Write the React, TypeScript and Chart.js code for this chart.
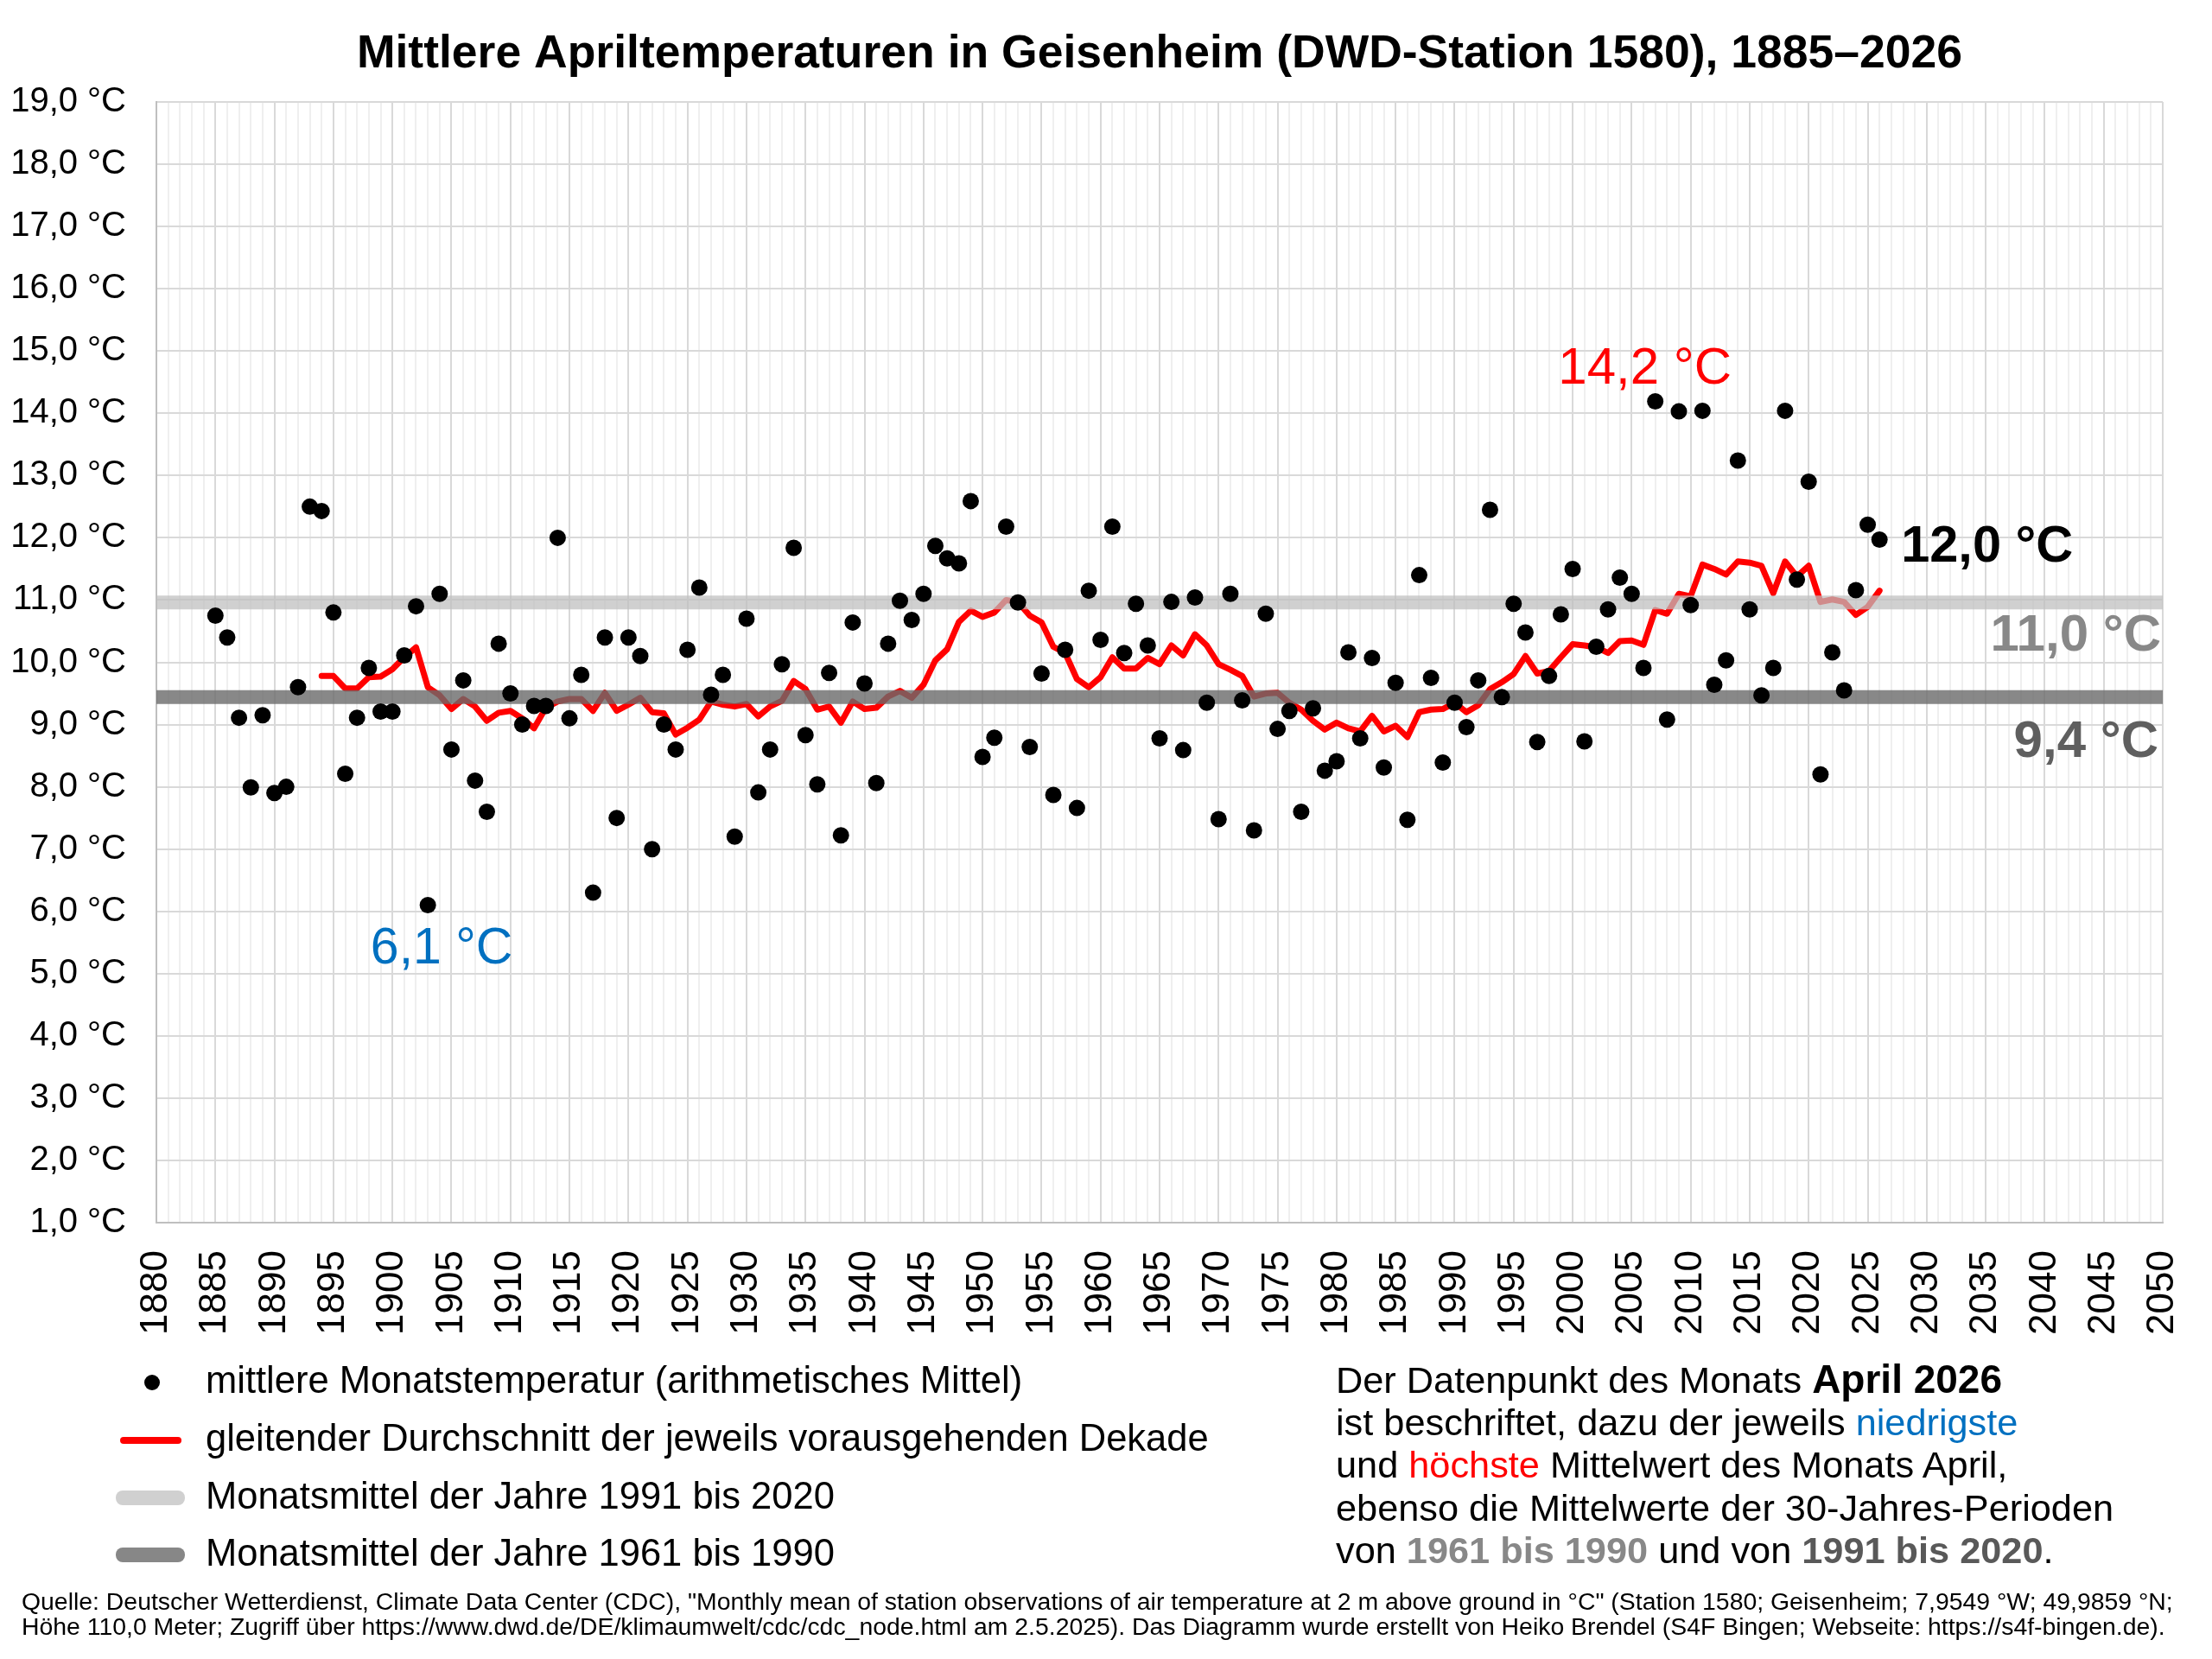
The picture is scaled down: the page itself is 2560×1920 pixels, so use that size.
import React, { useEffect, useRef } from 'react';
import { Chart, registerables } from 'chart.js';

Chart.register(...registerables);

// ---------- data ----------
const FIRST_YEAR = 1885;
const aprilMeans = [
  10.75, 10.4, 9.11, 7.99, 9.15, 7.9, 8.0, 9.6, 12.5, 12.43, // 1885-1894
  10.8, 8.21, 9.11, 9.91, 9.21, 9.21, 10.11, 10.9, 6.1, 11.1, // 1895-1904
  8.6, 9.71, 8.1, 7.6, 10.3, 9.5, 9.0, 9.3, 9.3, 12.0, // 1905-1914
  9.1, 9.8, 6.3, 10.4, 7.5, 10.4, 10.1, 7.0, 9.0, 8.6, // 1915-1924
  10.2, 11.2, 9.48, 9.8, 7.2, 10.7, 7.91, 8.6, 9.97, 11.84, // 1925-1934
  8.83, 8.04, 9.83, 7.22, 10.64, 9.66, 8.06, 10.3, 10.99, 10.68, // 1935-1944
  11.1, 11.87, 11.67, 11.59, 12.59, 8.48, 8.79, 12.18, 10.96, 8.64, // 1945-1954
  9.82, 7.87, 10.2, 7.66, 11.15, 10.36, 12.18, 10.15, 10.94, 10.27, // 1955-1964
  8.78, 10.97, 8.59, 11.04, 9.35, 7.48, 11.1, 9.39, 7.3, 10.78, // 1965-1974
  8.93, 9.22, 7.6, 9.26, 8.26, 8.41, 10.16, 8.78, 10.07, 8.31, // 1975-1984
  9.67, 7.47, 11.4, 9.75, 8.39, 9.35, 8.96, 9.71, 12.45, 9.44, // 1985-1994
  10.94, 10.48, 8.72, 9.78, 10.77, 11.5, 8.73, 10.25, 10.85, 11.36, // 1995-2004
  11.1, 9.91, 14.19, 9.08, 14.03, 10.92, 14.04, 9.64, 10.03, 13.24, // 2005-2014
  10.85, 9.47, 9.91, 14.04, 11.33, 12.9, 8.2, 10.16, 9.55, 11.16, // 2015-2024
  12.21, 11.97, // 2025-2026
];

const FIRST_AVG_YEAR = 1894;
const decadeAverages = [
  9.78, 9.78, 9.58, 9.58, 9.76, 9.77, 9.89, 10.08, 10.24, 9.6, // 1894-1903
  9.47, 9.25, 9.41, 9.29, 9.06, 9.19, 9.22, 9.1, 8.94, 9.27, // 1904-1913
  9.37, 9.41, 9.41, 9.22, 9.51, 9.22, 9.32, 9.43, 9.2, 9.18, // 1914-1923
  8.84, 8.95, 9.08, 9.37, 9.32, 9.29, 9.33, 9.13, 9.29, 9.38, // 1924-1933
  9.7, 9.57, 9.24, 9.29, 9.03, 9.37, 9.25, 9.27, 9.45, 9.54, // 1934-1943
  9.43, 9.64, 10.03, 10.21, 10.65, 10.83, 10.73, 10.8, 11.0, 10.97, // 1944-1953
  10.75, 10.64, 10.25, 10.15, 9.73, 9.6, 9.76, 10.08, 9.9, 9.9, // 1954-1963
  10.07, 9.97, 10.27, 10.11, 10.45, 10.27, 9.97, 9.88, 9.78, 9.45, // 1964-1973
  9.5, 9.51, 9.35, 9.24, 9.06, 8.92, 9.03, 8.94, 8.89, 9.14, // 1974-1983
  8.89, 8.98, 8.8, 9.2, 9.24, 9.25, 9.35, 9.2, 9.31, 9.57, // 1984-1993
  9.68, 9.81, 10.1, 9.82, 9.86, 10.08, 10.29, 10.27, 10.24, 10.15, // 1994-2003
  10.34, 10.35, 10.28, 10.84, 10.78, 11.1, 11.06, 11.57, 11.5, 11.41, // 2004-2013
  11.62, 11.6, 11.55, 11.11, 11.62, 11.38, 11.55, 10.97, 11.01, 10.97, // 2014-2023
  10.76, 10.89, 11.15, // 2024-2026
];

const MEAN_1961_1990 = 9.44;
const MEAN_1991_2020 = 10.96;

const X_MIN = 1880;
const X_MAX = 2050;
const Y_MIN = 1;
const Y_MAX = 19;

const TITLE = 'Mittlere Apriltemperaturen in Geisenheim (DWD-Station 1580), 1885–2026';
const LEGEND_LABELS = [
  'mittlere Monatstemperatur (arithmetisches Mittel)',
  'gleitender Durchschnitt der jeweils vorausgehenden Dekade',
  'Monatsmittel der Jahre 1991 bis 2020',
  'Monatsmittel der Jahre 1961 bis 1990',
];
const FOOTER_LINES = [
  'Quelle: Deutscher Wetterdienst, Climate Data Center (CDC), "Monthly mean of station observations of air temperature at 2 m above ground in °C" (Station 1580; Geisenheim; 7,9549 °W; 49,9859 °N;',
  'Höhe 110,0 Meter; Zugriff über https://www.dwd.de/DE/klimaumwelt/cdc/cdc_node.html am 2.5.2025). Das Diagramm wurde erstellt von Heiko Brendel (S4F Bingen; Webseite: https://s4f-bingen.de).',
];

// ---------- styling ----------
const FONT = '"Liberation Sans", Arial, Helvetica, sans-serif';
const RED = '#ff0000';
const BLUE = '#0070c0';
const LIGHT_BAND = 'rgba(191,191,191,0.73)';
const DARK_BAND = 'rgba(106,106,106,0.8)';

const fmt = (v: number) => v.toFixed(1).replace('.', ',') + ' °C';

const overlayPlugin = {
  id: 'overlayTexts',
  afterDraw(chart: any) {
    const { ctx, chartArea, scales } = chart;
    const xs = scales.x;
    const ys = scales.y;
    ctx.save();
    ctx.textBaseline = 'alphabetic';

    // title
    ctx.font = `bold 53.5px ${FONT}`;
    ctx.fillStyle = '#000';
    ctx.textAlign = 'center';
    ctx.fillText(TITLE, (chartArea.left + chartArea.right) / 2, 78);

    // highest value
    const maxV = Math.max(...aprilMeans);
    const maxYear = FIRST_YEAR + aprilMeans.indexOf(maxV);
    ctx.font = `60px ${FONT}`;
    ctx.fillStyle = RED;
    ctx.textAlign = 'center';
    ctx.fillText(fmt(maxV), xs.getPixelForValue(maxYear) - 12, ys.getPixelForValue(maxV) - 21);

    // lowest value
    const minV = Math.min(...aprilMeans);
    const minYear = FIRST_YEAR + aprilMeans.indexOf(minV);
    ctx.font = `59px ${FONT}`;
    ctx.fillStyle = BLUE;
    ctx.fillText(fmt(minV), xs.getPixelForValue(minYear) + 16, ys.getPixelForValue(minV) + 67);

    // latest value
    const lastV = aprilMeans[aprilMeans.length - 1];
    const lastYear = FIRST_YEAR + aprilMeans.length - 1;
    ctx.font = `bold 59.5px ${FONT}`;
    ctx.fillStyle = '#000';
    ctx.textAlign = 'left';
    ctx.fillText(fmt(lastV), xs.getPixelForValue(lastYear) + 25, ys.getPixelForValue(lastV) + 25);

    // 30-year means
    ctx.font = `bold 60px ${FONT}`;
    ctx.textAlign = 'right';
    ctx.fillStyle = '#888888';
    ctx.fillText(fmt(MEAN_1991_2020), chartArea.right - 2, ys.getPixelForValue(MEAN_1991_2020) + 56);
    ctx.fillStyle = '#5f5f5f';
    ctx.fillText(fmt(MEAN_1961_1990), chartArea.right - 5, ys.getPixelForValue(MEAN_1961_1990) + 69);

    ctx.restore();
  },
};

export default function App() {
  const canvasRef = useRef<HTMLCanvasElement>(null);

  useEffect(() => {
    const canvas = canvasRef.current;
    if (!canvas) return;
    Chart.defaults.font.family = FONT;
    Chart.defaults.color = '#000';

    const points = aprilMeans.map((v, i) => ({ x: FIRST_YEAR + i, y: v }));
    const avgLine = decadeAverages.map((v, i) => ({ x: FIRST_AVG_YEAR + i, y: v }));

    const chart = new Chart(canvas, {
      type: 'scatter',
      data: {
        datasets: [
          {
            type: 'scatter',
            label: LEGEND_LABELS[0],
            data: points,
            pointRadius: 9.5,
            pointBackgroundColor: '#000',
            pointBorderWidth: 0,
            showLine: false,
            order: 0,
          },
          {
            type: 'line',
            label: LEGEND_LABELS[2],
            data: [
              { x: X_MIN, y: MEAN_1991_2020 },
              { x: X_MAX, y: MEAN_1991_2020 },
            ],
            borderColor: LIGHT_BAND,
            borderWidth: 16,
            pointRadius: 0,
            borderCapStyle: 'butt',
            showLine: true,
            order: 1,
          },
          {
            type: 'line',
            label: LEGEND_LABELS[3],
            data: [
              { x: X_MIN, y: MEAN_1961_1990 },
              { x: X_MAX, y: MEAN_1961_1990 },
            ],
            borderColor: DARK_BAND,
            borderWidth: 16,
            pointRadius: 0,
            borderCapStyle: 'butt',
            showLine: true,
            order: 1,
          },
          {
            type: 'line',
            label: LEGEND_LABELS[1],
            data: avgLine,
            borderColor: RED,
            borderWidth: 7,
            pointRadius: 0,
            borderJoinStyle: 'round',
            borderCapStyle: 'round',
            tension: 0,
            showLine: true,
            order: 2,
          },
        ],
      },
      options: {
        animation: false,
        responsive: false,
        devicePixelRatio: 1,
        layout: { padding: { top: 118, right: 57, bottom: 0, left: 0 } },
        plugins: {
          legend: { display: false },
          tooltip: { enabled: false },
          title: { display: false },
        },
        scales: {
          x: {
            type: 'linear',
            min: X_MIN,
            max: X_MAX,
            afterFit: (scale: any) => {
              scale.height = 1920 - 1415;
              scale.paddingLeft = 0;
              scale.paddingRight = 0;
            },
            ticks: {
              stepSize: 1,
              autoSkip: false,
              maxRotation: 90,
              minRotation: 90,
              padding: 32,
              color: '#000',
              font: { size: 44, family: FONT },
              callback: (v: any) => (Number(v) % 5 === 0 ? String(v) : ''),
            },
            grid: {
              drawTicks: false,
              lineWidth: 2,
              color: (c: any) => (c.tick && Number(c.tick.value) % 5 === 0 ? '#d9d9d9' : '#efefef'),
            },
            border: { color: '#bfbfbf', width: 2 },
          },
          y: {
            type: 'linear',
            min: Y_MIN,
            max: Y_MAX,
            afterFit: (scale: any) => {
              scale.width = 181;
              scale.paddingTop = 0;
              scale.paddingBottom = 0;
            },
            ticks: {
              stepSize: 1,
              padding: 35,
              color: '#000',
              font: { size: 40, family: FONT },
              callback: (v: any) => fmt(Number(v)),
            },
            grid: { drawTicks: false, lineWidth: 2, color: '#d9d9d9' },
            border: { color: '#bfbfbf', width: 2 },
          },
        },
      },
      plugins: [overlayPlugin],
    } as any);

    return () => chart.destroy();
  }, []);

  const legendRowTops = [1567, 1634, 1701, 1767];
  const markers = [
    <div key="m0" style={{ position: 'absolute', left: 167, top: 1591, width: 18, height: 18, borderRadius: 9, background: '#000' }} />,
    <div key="m1" style={{ position: 'absolute', left: 139, top: 1663, width: 71, height: 8, borderRadius: 4, background: RED }} />,
    <div key="m2" style={{ position: 'absolute', left: 134, top: 1725, width: 80, height: 17, borderRadius: 8, background: '#d0d0d0' }} />,
    <div key="m3" style={{ position: 'absolute', left: 134, top: 1791, width: 80, height: 17, borderRadius: 8, background: '#878787' }} />,
  ];

  const noteLine: React.CSSProperties = { height: 49.5, whiteSpace: 'nowrap' };

  return (
    <div
      style={{
        position: 'absolute',
        left: 0,
        top: 0,
        width: 2560,
        height: 1920,
        background: '#fff',
        fontFamily: FONT,
        color: '#000',
        overflow: 'hidden',
      }}
    >
      <canvas ref={canvasRef} width={2560} height={1920} style={{ position: 'absolute', left: 0, top: 0, width: 2560, height: 1920 }} />

      {markers}
      {LEGEND_LABELS.map((t, i) => (
        <div
          key={t}
          style={{ position: 'absolute', left: 238, top: legendRowTops[i], fontSize: 43.5, lineHeight: '60px', whiteSpace: 'nowrap' }}
        >
          {t}
        </div>
      ))}

      <div style={{ position: 'absolute', left: 1546, top: 1572, fontSize: 43.3, lineHeight: '49.5px' }}>
        <div style={noteLine}>
          Der Datenpunkt des Monats <b style={{ fontSize: 46 }}>April 2026</b>
        </div>
        <div style={noteLine}>
          ist beschriftet, dazu der jeweils <span style={{ color: BLUE }}>niedrigste</span>
        </div>
        <div style={noteLine}>
          und <span style={{ color: RED }}>höchste</span> Mittelwert des Monats April,
        </div>
        <div style={noteLine}>ebenso die Mittelwerte der 30-Jahres-Perioden</div>
        <div style={noteLine}>
          von <b style={{ color: '#888888' }}>1961 bis 1990</b> und von <b style={{ color: '#595959' }}>1991 bis 2020</b>.
        </div>
      </div>

      <div style={{ position: 'absolute', left: 25, top: 1839, fontSize: 28.4, lineHeight: '29px', color: '#000' }}>
        {FOOTER_LINES.map((l) => (
          <div key={l} style={{ whiteSpace: 'nowrap' }}>
            {l}
          </div>
        ))}
      </div>
    </div>
  );
}
